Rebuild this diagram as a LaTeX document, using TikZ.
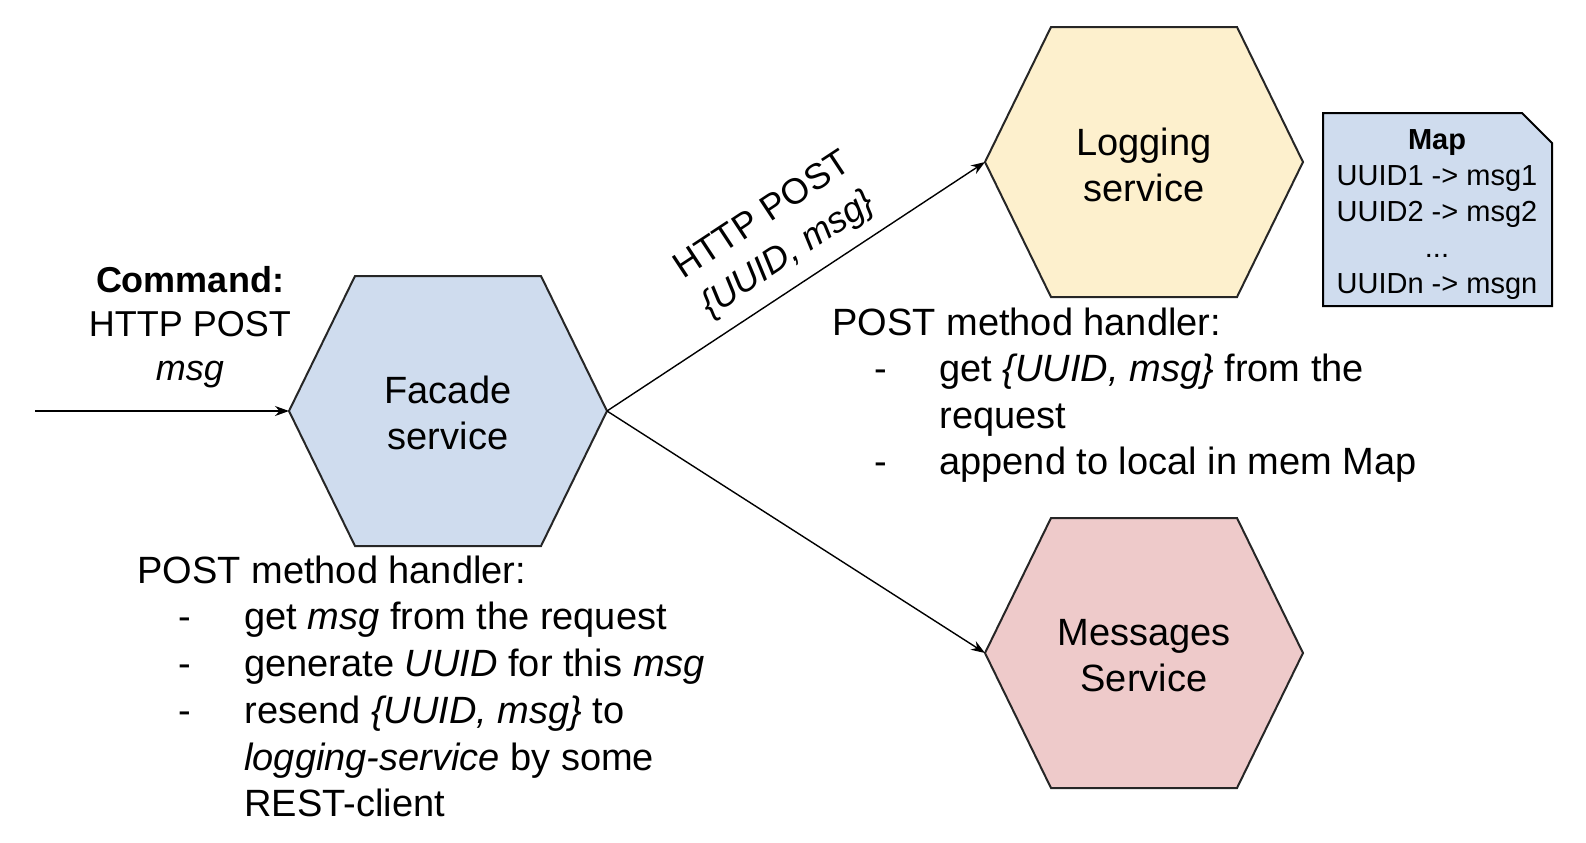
\documentclass[tikz,border=0pt]{standalone}
\usepackage{fontspec}
\setmainfont{Liberation Sans}
\usetikzlibrary{arrows.meta}

\definecolor{facadeblue}{HTML}{CFDCEE}
\definecolor{loggingyellow}{HTML}{FDF0CD}
\definecolor{messagesred}{HTML}{EECACA}
\definecolor{mapblue}{HTML}{CFDCEE}

\tikzset{
  hexa/.style={draw=black!85, line width=1pt},
  svclabel/.style={align=center, font=\fontsize{19}{23}\selectfont},
  txt/.style={anchor=mid west, inner sep=0pt, font=\fontsize{19}{23}\selectfont},
  call/.style={-{Stealth[length=7pt,width=5pt]}, line width=0.7pt},
}

\begin{document}
\begin{tikzpicture}[x=0.5pt,y=-0.5pt]
      \useasboundingbox (0,0) rectangle (1586,842);

      % service hexagons
      \foreach \cx/\cy/\col in {448/411/facadeblue,1144/162/loggingyellow,1144/653/messagesred} {
        \draw[hexa, fill=\col] (\cx-159,\cy) -- (\cx-93,\cy-135) -- (\cx+93,\cy-135) -- (\cx+159,\cy) -- (\cx+93,\cy+135) -- (\cx-93,\cy+135) -- cycle;
      }

      \node[svclabel](facade) at ( 448, 413){Facade\\service};
      \node[svclabel](logging) at (1144, 165){Logging\\service};
      \node[svclabel](messages) at (1144, 656){Messages\\Service};

      \coordinate (facade-w) at ( 289, 411);
      \coordinate (facade-e) at ( 607, 411);
      \coordinate (logging-w) at ( 985, 162);
      \coordinate (messages-w) at ( 985, 653);
      \coordinate (cmd-in) at (  35, 411);

      % calls
      \draw[call] (cmd-in) -- (facade-w);
      \draw[call] (facade-e) -- (logging-w);
      \draw[call] (facade-e) -- (messages-w);

      \node[align=center, font=\fontsize{18}{22}\selectfont](cmd) at ( 190, 327){\textbf{Command:}\\HTTP POST\\\textit{msg}};
      \node[align=center, rotate=33.4, font=\fontsize{18}{23}\selectfont](post) at ( 776, 236){HTTP POST\\\textit{\{UUID, msg\}}};

      % in-memory map
      \draw[line width=1pt, fill=mapblue] (1323,113) -- (1522,113) -- (1552,143) -- (1552,306) -- (1323,306) -- cycle;
      \node[align=center, font=\fontsize{14.5}{18}\selectfont](map) at (1437, 215){\textbf{Map}\\UUID1 -> msg1\\UUID2 -> msg2\\...\\UUIDn -> msgn};

      % facade handler
      \node[txt](fh0) at ( 137, 578){POST method handler:};
      \node[txt](fd1) at ( 178, 624){-};
      \node[txt](fd2) at ( 178, 671){-};
      \node[txt](fd3) at ( 178, 718){-};
      \node[txt](fh1) at ( 244, 624){get \textit{msg} from the request};
      \node[txt](fh2) at ( 244, 671){generate \textit{UUID} for this \textit{msg}};
      \node[txt](fh3) at ( 244, 718){resend \textit{\{UUID, msg\}} to};
      \node[txt](fh4) at ( 244, 765){\textit{logging-service} by some};
      \node[txt](fh5) at ( 244, 811){REST-client};

      % logging handler
      \node[txt](lh0) at ( 832, 330){POST method handler:};
      \node[txt](ld1) at ( 874, 376){-};
      \node[txt](ld2) at ( 874, 469){-};
      \node[txt](lh1) at ( 939, 376){get \textit{\{UUID, msg\}} from the};
      \node[txt](lh2) at ( 939, 423){request};
      \node[txt](lh3) at ( 939, 469){append to local in mem Map};
\end{tikzpicture}
\end{document}
